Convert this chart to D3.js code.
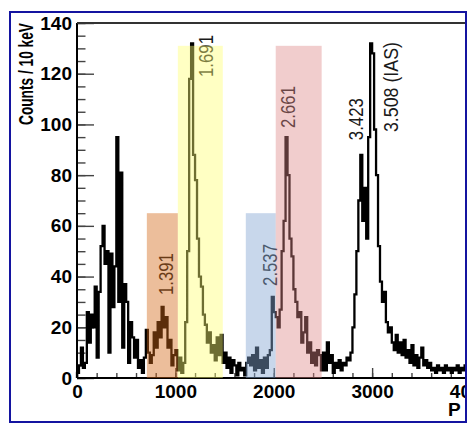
<!DOCTYPE html>
<html>
<head>
<meta charset="utf-8">
<script src="https://cdn.jsdelivr.net/npm/d3@7"></script>
<style>
  body { margin: 0; background: #fff; }
</style>
</head>
<body>
<svg id="chart"></svg>
<script>
// histogram, 20 keV wide bins starting at 0 (counts per 10 keV)
const binWidth = 20;
const counts = [
  2, 5, 12, 4, 6,      26, 14, 25, 20, 36,
  8, 34, 52, 60, 45,   50, 10, 49, 28, 44,
  95, 30, 81, 12, 37,  30, 6, 22, 16, 8,
  15, 4, 7, 2, 8,      19, 10, 6, 9, 18,
  12, 22, 16, 28, 20,  24, 12, 15, 5, 9,
  11, 3, 8, 2, 6,      22, 50, 118, 132, 88,
  78, 55, 40, 36, 25,  21, 14, 18, 10, 13,
  7, 16, 9, 17, 6,     10, 4, 8, 2, 7,
  5, 1, 6, 3, 4,       1, 6, 8, 5, 9,
  3, 12, 4, 7, 2,      8, 4, 9, 11, 32,
  26, 24, 20, 27, 50,  62, 95, 80, 55, 48,
  35, 30, 24, 26, 14,  18, 24, 10, 14, 6,
  10, 5, 11, 9, 3,     10, 3, 14, 6, 9,
  2, 6, 4, 7, 3,       6, 5, 8, 7, 10,
  20, 33, 50, 70, 88,  62, 75, 55, 95, 132,
  128, 98, 80, 52, 38, 30, 34, 22, 18, 20,
  14, 11, 17, 10, 14,  9, 15, 8, 11, 6,
  13, 5, 9, 4, 8,      12, 5, 7, 4, 6,
  3, 4, 2, 5, 3,       4, 2, 5, 3, 4,
  2, 4, 3, 5, 2,       4, 3, 5, 2, 3
];

const yTicks = [0, 20, 40, 60, 80, 100, 120, 140];
const xTicks = [0, 1000, 2000, 3000, 4000];

// shaded windows (channel range and height)
const bandLo  = [710, 1025, 1716, 2020];
const bandHi  = [1025, 1482, 2020, 2487];
const bandTop = [65, 131, 65, 131];
const bandColors = ["rgba(210,105,23,0.43)", "rgba(255,255,115,0.43)",
                    "rgba(133,167,211,0.45)", "rgba(220,134,134,0.41)"];

// peak labels (energies in MeV), anchored at channel / count
const peakLabels = ["1.391", "1.691", "2.537", "2.661", "3.423", "3.508 (IAS)"];
const peakX = [975, 1381, 2030, 2213, 2904, 3259];
const peakY = [32.7, 118.7, 36.3, 98.6, 93.8, 97];

const width = 471, height = 426;
const svg = d3.select("#chart").attr("width", width).attr("height", height);

const x = d3.scaleLinear().domain([0, 4000]).range([77, 470.5]);
const y = d3.scaleLinear().domain([0, 140]).range([378, 23]);

svg.append("defs").append("clipPath").attr("id", "frame")
   .append("rect").attr("x", 10).attr("y", 12).attr("width", 456).attr("height", 410);

const g = svg.append("g").attr("clip-path", "url(#frame)");

const labelFont = a => a.selectAll("text")
  .attr("fill", "#000")
  .style("font-family", "'Liberation Sans', Arial, sans-serif")
  .style("font-weight", "bold")
  .style("font-size", "19px");

// minor + major ticks, drawn inward like ROOT
g.append("g")
 .attr("transform", `translate(${x(0)},0)`)
 .call(d3.axisLeft(y).tickValues(d3.range(0, 141, 5)).tickSize(-8.5).tickFormat(""))
 .call(a => a.select(".domain").remove())
 .call(a => a.selectAll("line").attr("stroke", "#444").attr("stroke-width", 1.4));

g.append("g")
 .attr("transform", `translate(${x(0)},0)`)
 .call(d3.axisLeft(y).tickValues(yTicks).tickSize(-17).tickPadding(5))
 .call(a => a.select(".domain").remove())
 .call(a => a.selectAll("line").attr("stroke", "#444").attr("stroke-width", 1.4))
 .call(labelFont);

g.append("g")
 .attr("transform", `translate(0,${y(0)})`)
 .call(d3.axisBottom(x).tickValues(d3.range(0, 4001, 200)).tickSize(-5).tickFormat(""))
 .call(a => a.select(".domain").remove())
 .call(a => a.selectAll("line").attr("stroke", "#444").attr("stroke-width", 1.4));

g.append("g")
 .attr("transform", `translate(0,${y(0)})`)
 .call(d3.axisBottom(x).tickValues(xTicks).tickFormat(d3.format("d")).tickSize(-10).tickPadding(7))
 .call(a => a.select(".domain").remove())
 .call(a => a.selectAll("line").attr("stroke", "#444").attr("stroke-width", 1.4))
 .call(labelFont);

// histogram outline
const pts = [[0, 0]].concat(counts.map((c, i) => [i * binWidth, c]));
pts.push([counts.length * binWidth, 0]);
const line = d3.line().x(d => x(d[0])).y(d => y(d[1])).curve(d3.curveStepAfter);

g.append("path")
 .attr("d", line(pts))
 .attr("fill", "none")
 .attr("stroke", "#000")
 .attr("stroke-width", 2.3)
 .attr("stroke-linejoin", "miter");

// axis lines and top frame
g.append("line").attr("x1", x(0)).attr("x2", x(0)).attr("y1", y(140)).attr("y2", y(0))
 .attr("stroke", "#000").attr("stroke-width", 2);
g.append("line").attr("x1", x(0)).attr("x2", width).attr("y1", y(0)).attr("y2", y(0))
 .attr("stroke", "#000").attr("stroke-width", 2);
g.append("line").attr("x1", x(0)).attr("x2", width).attr("y1", y(140)).attr("y2", y(140))
 .attr("stroke", "#333").attr("stroke-width", 2);

// peak labels (rotated)
peakLabels.forEach((t, i) => {
  g.append("text")
   .attr("transform", `translate(${x(peakX[i])},${y(peakY[i])}) rotate(-90)`)
   .attr("text-anchor", "start")
   .attr("textLength", t.length > 5 ? 90 : 42)
   .attr("lengthAdjust", "spacingAndGlyphs")
   .attr("fill", "#1a1a1a")
   .style("font-family", "'Liberation Sans Narrow', 'Arial Narrow', 'Liberation Sans', Arial, sans-serif")
   .style("font-size", "20px")
   .text(t);
});

// translucent windows on top of the spectrum
g.selectAll(".band")
 .data(bandLo)
 .enter()
 .append("rect")
 .attr("class", "band")
 .attr("x", (d, i) => x(bandLo[i]))
 .attr("y", (d, i) => y(bandTop[i]))
 .attr("width", (d, i) => x(bandHi[i]) - x(bandLo[i]))
 .attr("height", (d, i) => y(0) - y(bandTop[i]))
 .attr("fill", (d, i) => bandColors[i]);

// axis titles
g.append("text")
 .attr("transform", `translate(33,${y(140)}) rotate(-90)`)
 .attr("text-anchor", "end")
 .attr("textLength", 102)
 .attr("lengthAdjust", "spacingAndGlyphs")
 .style("font-family", "'Liberation Sans', Arial, sans-serif")
 .style("font-weight", "bold")
 .style("font-size", "21px")
 .text("Counts / 10 keV");

g.append("text")
 .attr("x", 448)
 .attr("y", 416)
 .style("font-family", "'Liberation Sans', Arial, sans-serif")
 .style("font-weight", "bold")
 .style("font-size", "19px")
 .text("P");

// outer border
svg.append("rect")
 .attr("x", 10).attr("y", 12).attr("width", 456).attr("height", 410)
 .attr("fill", "none")
 .attr("stroke", "#1414a0")
 .attr("stroke-width", 2);
</script>
</body>
</html>
